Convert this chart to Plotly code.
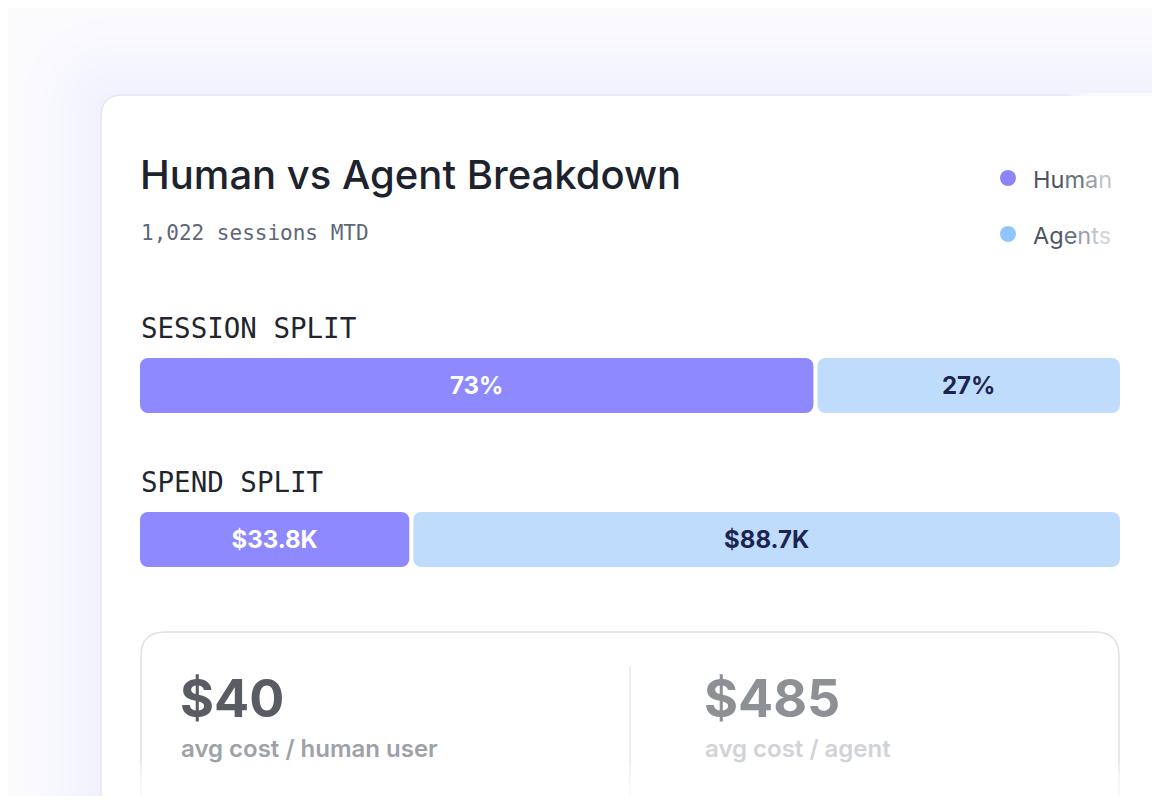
import plotly.graph_objects as go

# ---------------- data ----------------
rows = ["SESSION SPLIT", "SPEND SPLIT"]
series = ["Human", "Agents"]
session_share = [69, 31]            # bar lengths
session_labels = ["73%", "27%"]
spend_k = [33.8, 88.7]              # $K
spend_labels = ["$33.8K", "$88.7K"]
title_text = "Human vs Agent Breakdown"
subtitle_text = "1,022 sessions MTD"
stat_values = ["$40", "$485"]
stat_labels = ["avg cost / human user", "avg cost / agent"]

# ---------------- styling ----------------
OFF = 8  # page body margin in the browser
W, H = 1160 - OFF, 804 - 2 * OFF
HUMAN = "#8f89ff"
AGENT = "#c0dcfd"
HUMAN_DOT = "#8b85f8"
AGENT_DOT = "#93c5fd"
SANS = "Inter"
MONO = "DejaVu Sans Mono"
BAR_L, BAR_R = 140, 1120
GAP_PX = 4
ROW0_Y, ROW_STEP, BAR_H = 385.5, 154, 55
PAGE_W, PAGE_H = 1160, 804


def X(px):
    return (px - OFF) / W


def Y(py):
    return 1 - (py - OFF) / H


fig = go.Figure()

# y category axis mapped so that row centres land at the wanted pixels
unit = ROW_STEP
top_val = 0 - (ROW0_Y - OFF) / unit
bot_val = top_val + H / unit
bar_w = BAR_H / unit
axis_px = BAR_R - BAR_L


def add_split(values, labels, xaxis, row):
    total = sum(values)
    g = GAP_PX * total / (axis_px - GAP_PX)
    h, a = values
    # human: drawn from its right end back to 0 so the rounded end is on the left
    fig.add_trace(go.Bar(
        orientation="h", y=[row], x=[-h], base=[h], width=[bar_w],
        marker=dict(color=HUMAN, line=dict(width=0), cornerradius=8),
        text=[labels[0]], textposition="inside", insidetextanchor="middle",
        textangle=0, constraintext="none",
        textfont=dict(family=SANS, size=24, color="#ffffff", weight=700),
        xaxis=xaxis, yaxis="y", hoverinfo="skip", showlegend=False))
    fig.add_trace(go.Bar(
        orientation="h", y=[row], x=[a], base=[h + g], width=[bar_w],
        marker=dict(color=AGENT, line=dict(width=0), cornerradius=8),
        text=[labels[1]], textposition="inside", insidetextanchor="middle",
        textangle=0, constraintext="none",
        textfont=dict(family=SANS, size=24, color="#1b2550", weight=700),
        xaxis=xaxis, yaxis="y", hoverinfo="skip", showlegend=False))
    return total + g


t1 = add_split(session_share, session_labels, "x", rows[0])
t2 = add_split(spend_k, spend_labels, "x2", rows[1])

shapes = []

# soft bluish glow around the card
for i in range(9):
    d = 6 + i * 9
    x0, y0 = 101 - d, 95 - d
    r = 22 + d
    path = (f"M {X(x0)},{Y(PAGE_H + 50)} L {X(x0)},{Y(y0 + r)} "
            f"Q {X(x0)},{Y(y0)} {X(x0 + r)},{Y(y0)} L {X(PAGE_W + 60)},{Y(y0)} "
            f"L {X(PAGE_W + 60)},{Y(PAGE_H + 50)} Z")
    shapes.append(dict(type="path", xref="paper", yref="paper", path=path,
                       fillcolor="rgba(200,214,250,0.022)", line=dict(width=0), layer="below"))

# main card
r = 22
card = (f"M {X(101)},{Y(PAGE_H + 40)} L {X(101)},{Y(95 + r)} "
        f"Q {X(101)},{Y(95)} {X(101 + r)},{Y(95)} L {X(PAGE_W + 40)},{Y(95)} "
        f"L {X(PAGE_W + 40)},{Y(PAGE_H + 40)} Z")
shapes.append(dict(type="path", xref="paper", yref="paper", path=card,
                   fillcolor="#ffffff", line=dict(color="#e4e7ee", width=1.5), layer="below"))

# stat card (open at the bottom)
sx0, sx1, sy0, sr = 141, 1119, 632, 24
stat = (f"M {X(sx0)},{Y(PAGE_H + 10)} L {X(sx0)},{Y(sy0 + sr)} "
        f"Q {X(sx0)},{Y(sy0)} {X(sx0 + sr)},{Y(sy0)} L {X(sx1 - sr)},{Y(sy0)} "
        f"Q {X(sx1)},{Y(sy0)} {X(sx1)},{Y(sy0 + sr)} L {X(sx1)},{Y(PAGE_H + 10)}")
shapes.append(dict(type="path", xref="paper", yref="paper", path=stat,
                   line=dict(color="#dde1e8", width=1.5), layer="below"))
shapes.append(dict(type="line", xref="paper", yref="paper", x0=X(630), x1=X(630),
                   y0=Y(666), y1=Y(PAGE_H + 10), line=dict(color="#e6e8ec", width=1.5), layer="below"))

# legend dots
for cy, col in [(178, HUMAN_DOT), (234, AGENT_DOT)]:
    shapes.append(dict(type="circle", xref="paper", yref="paper",
                       x0=X(1000), x1=X(1016), y0=Y(cy - 8), y1=Y(cy + 8),
                       fillcolor=col, line=dict(width=0)))

# right-edge fade of the card's top border
for i in range(12):
    xa = 1068 + i * 4
    shapes.append(dict(type="rect", xref="paper", yref="paper",
                       x0=X(xa), x1=X(PAGE_W + 20), y0=Y(93), y1=Y(99),
                       fillcolor="rgba(255,255,255,0.2)", line=dict(width=0), layer="above"))
# bottom fade
for i in range(8):
    ya = 762 + i * 4
    shapes.append(dict(type="rect", xref="paper", yref="paper",
                       x0=X(118), x1=X(1140), y0=Y(ya), y1=Y(PAGE_H + 20),
                       fillcolor="rgba(255,255,255,0.18)", line=dict(width=0), layer="above"))

ann = []


def text(x, y, s, size, color, family=SANS, weight=400, xanchor="left"):
    ann.append(dict(x=X(x), y=Y(y), xref="paper", yref="paper", text=s, showarrow=False,
                    xanchor=xanchor, yanchor="middle",
                    font=dict(family=family, size=size, color=color, weight=weight)))


def faded(word):
    # letters fade towards the card's right edge
    cols = ["#4b5563", "#4b5563", "#6b7280", "#9aa0aa", "#bfc4cb", "#d3d6dc"]
    out = ""
    for i, ch in enumerate(word):
        c = cols[min(i, len(cols) - 1)]
        out += f"<span style='color:{c}'>{ch}</span>"
    return out


text(138, 175, title_text, 40, "#1c232d", weight=500)
text(139, 233, subtitle_text, 21, "#5d6778", family=MONO)
text(139, 328, rows[0], 27.5, "#1f2630", family=MONO)
text(139, 482, rows[1], 27.5, "#1f2630", family=MONO)
text(1031, 179, faded(series[0]), 23.5, "#4b5563")
text(1031, 235, faded(series[1]), 23.5, "#4b5563")
text(178, 698, stat_values[0], 52, "#595d63", weight=700)
text(179, 748, stat_labels[0], 24, "#9da1a8", weight=600)
text(702, 698, stat_values[1], 52, "#8d9095", weight=700)
text(703, 748, stat_labels[1], 24, "#d0d3d8", weight=600)

fig.update_layout(
    width=W, height=H, margin=dict(l=0, r=0, t=0, b=0),
    paper_bgcolor="#fbfbfe", plot_bgcolor="rgba(0,0,0,0)",
    barmode="overlay", showlegend=False,
    shapes=shapes, annotations=ann,
    xaxis=dict(domain=[X(BAR_L), X(BAR_R)], range=[0, t1], visible=False, fixedrange=True),
    xaxis2=dict(overlaying="x", range=[0, t2], visible=False, fixedrange=True),
    yaxis=dict(type="category", categoryorder="array", categoryarray=rows,
               range=[bot_val, top_val], domain=[0, 1], visible=False, fixedrange=True),
)

fig.write_html("out.html", config={"displayModeBar": False})
